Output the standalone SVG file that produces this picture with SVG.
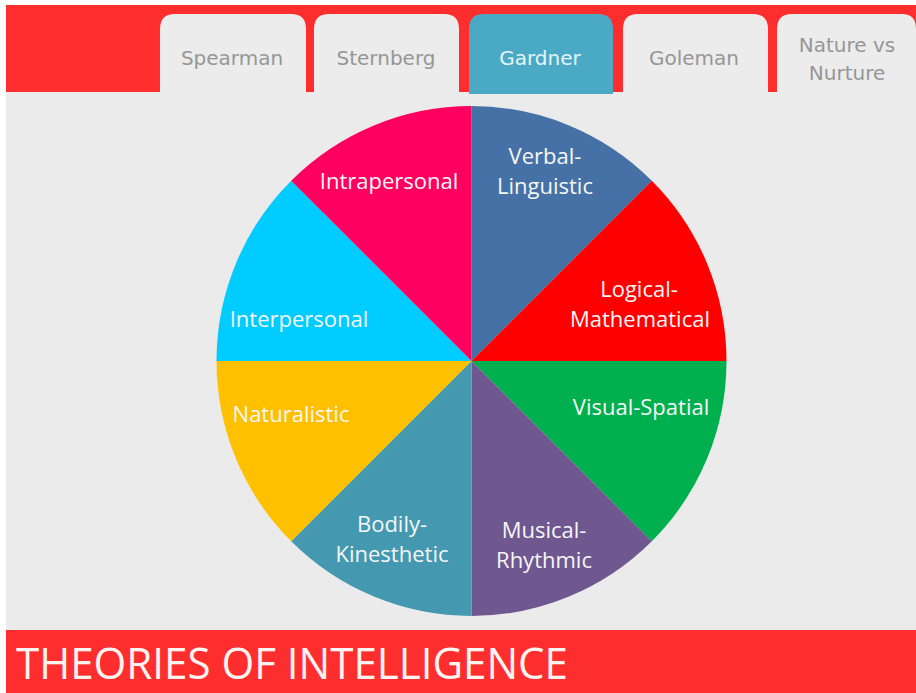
<svg xmlns="http://www.w3.org/2000/svg" width="916" height="693" viewBox="0 0 916 693">
  <style>
    .tab { fill: #ececec; }
    .tab-active { fill: #4aa9c5; }
    .tab-text { font-family: "DejaVu Sans", "Liberation Sans", sans-serif; font-size: 20px; fill: #969696; text-anchor: middle; }
    .tab-text-active { fill: #e6f3f7; }
    .slice-label { font-family: "Open Sans", "Liberation Sans", sans-serif; font-size: 22px; fill: #f6f6f6; text-anchor: middle; }
    .title { font-family: "Open Sans", "Liberation Sans", sans-serif; font-size: 43px; fill: #fff4f2; }
  </style>

  <!-- page -->
  <rect x="0" y="0" width="916" height="693" fill="#ffffff"/>
  <rect x="6" y="91" width="910" height="539" fill="#ebebeb"/>

  <!-- header bar with navigation tabs -->
  <rect x="6" y="5" width="910" height="87" fill="#fe2e2e"/>
  <g id="tab-spearman">
    <path class="tab" d="M160,92 V29 Q160,14 175,14 H291 Q306,14 306,29 V92 Z"/>
    <text class="tab-text" x="232" y="65">Spearman</text>
  </g>
  <g id="tab-sternberg">
    <path class="tab" d="M314,92 V29 Q314,14 329,14 H444 Q459,14 459,29 V92 Z"/>
    <text class="tab-text" x="386" y="65">Sternberg</text>
  </g>
  <g id="tab-gardner">
    <path class="tab-active" d="M469,94 V29 Q469,14 484,14 H598 Q613,14 613,29 V94 Z"/>
    <text class="tab-text tab-text-active" x="540" y="65">Gardner</text>
  </g>
  <g id="tab-goleman">
    <path class="tab" d="M623,92 V29 Q623,14 638,14 H753 Q768,14 768,29 V92 Z"/>
    <text class="tab-text" x="694" y="65">Goleman</text>
  </g>
  <g id="tab-nature-nurture">
    <path class="tab" d="M777,92 V29 Q777,14 792,14 H902 Q916,14 916,29 V92 Z"/>
    <text class="tab-text" x="847" y="52">Nature vs</text>
    <text class="tab-text" x="847" y="80">Nurture</text>
  </g>

  <!-- pie of eight intelligences, centre (471.5, 361), r 255 -->
  <g id="verbal-linguistic">
    <path d="M471.5,361 L471.5,106 A255,255 0 0 1 651.8,180.7 Z" fill="#4571a6"/>
    <text class="slice-label" x="545" y="164">Verbal-</text>
    <text class="slice-label" x="545" y="194">Linguistic</text>
  </g>
  <g id="logical-mathematical">
    <path d="M471.5,361 L651.8,180.7 A255,255 0 0 1 726.5,361 Z" fill="#ff0000"/>
    <text class="slice-label" x="639" y="297">Logical-</text>
    <text class="slice-label" x="640" y="327">Mathematical</text>
  </g>
  <g id="visual-spatial">
    <path d="M471.5,361 L726.5,361 A255,255 0 0 1 651.8,541.3 Z" fill="#00b04f"/>
    <text class="slice-label" x="641" y="415">Visual-Spatial</text>
  </g>
  <g id="musical-rhythmic">
    <path d="M471.5,361 L651.8,541.3 A255,255 0 0 1 471.5,616 Z" fill="#6f5790"/>
    <text class="slice-label" x="544" y="538">Musical-</text>
    <text class="slice-label" x="544" y="568">Rhythmic</text>
  </g>
  <g id="bodily-kinesthetic">
    <path d="M471.5,361 L471.5,616 A255,255 0 0 1 291.2,541.3 Z" fill="#4499b1"/>
    <text class="slice-label" x="392" y="532">Bodily-</text>
    <text class="slice-label" x="392" y="562">Kinesthetic</text>
  </g>
  <g id="naturalistic">
    <path d="M471.5,361 L291.2,541.3 A255,255 0 0 1 216.5,361 Z" fill="#ffc000"/>
    <text class="slice-label" x="291" y="422">Naturalistic</text>
  </g>
  <g id="interpersonal">
    <path d="M471.5,361 L216.5,361 A255,255 0 0 1 291.2,180.7 Z" fill="#00ccff"/>
    <text class="slice-label" x="299" y="327">Interpersonal</text>
  </g>
  <g id="intrapersonal">
    <path d="M471.5,361 L291.2,180.7 A255,255 0 0 1 471.5,106 Z" fill="#fd0060"/>
    <text class="slice-label" x="389" y="189">Intrapersonal</text>
  </g>

  <!-- footer title bar -->
  <rect x="6" y="630" width="910" height="63" fill="#fe2e2e"/>
  <text class="title" x="16" y="679" textLength="552" lengthAdjust="spacingAndGlyphs">THEORIES OF INTELLIGENCE</text>
</svg>
